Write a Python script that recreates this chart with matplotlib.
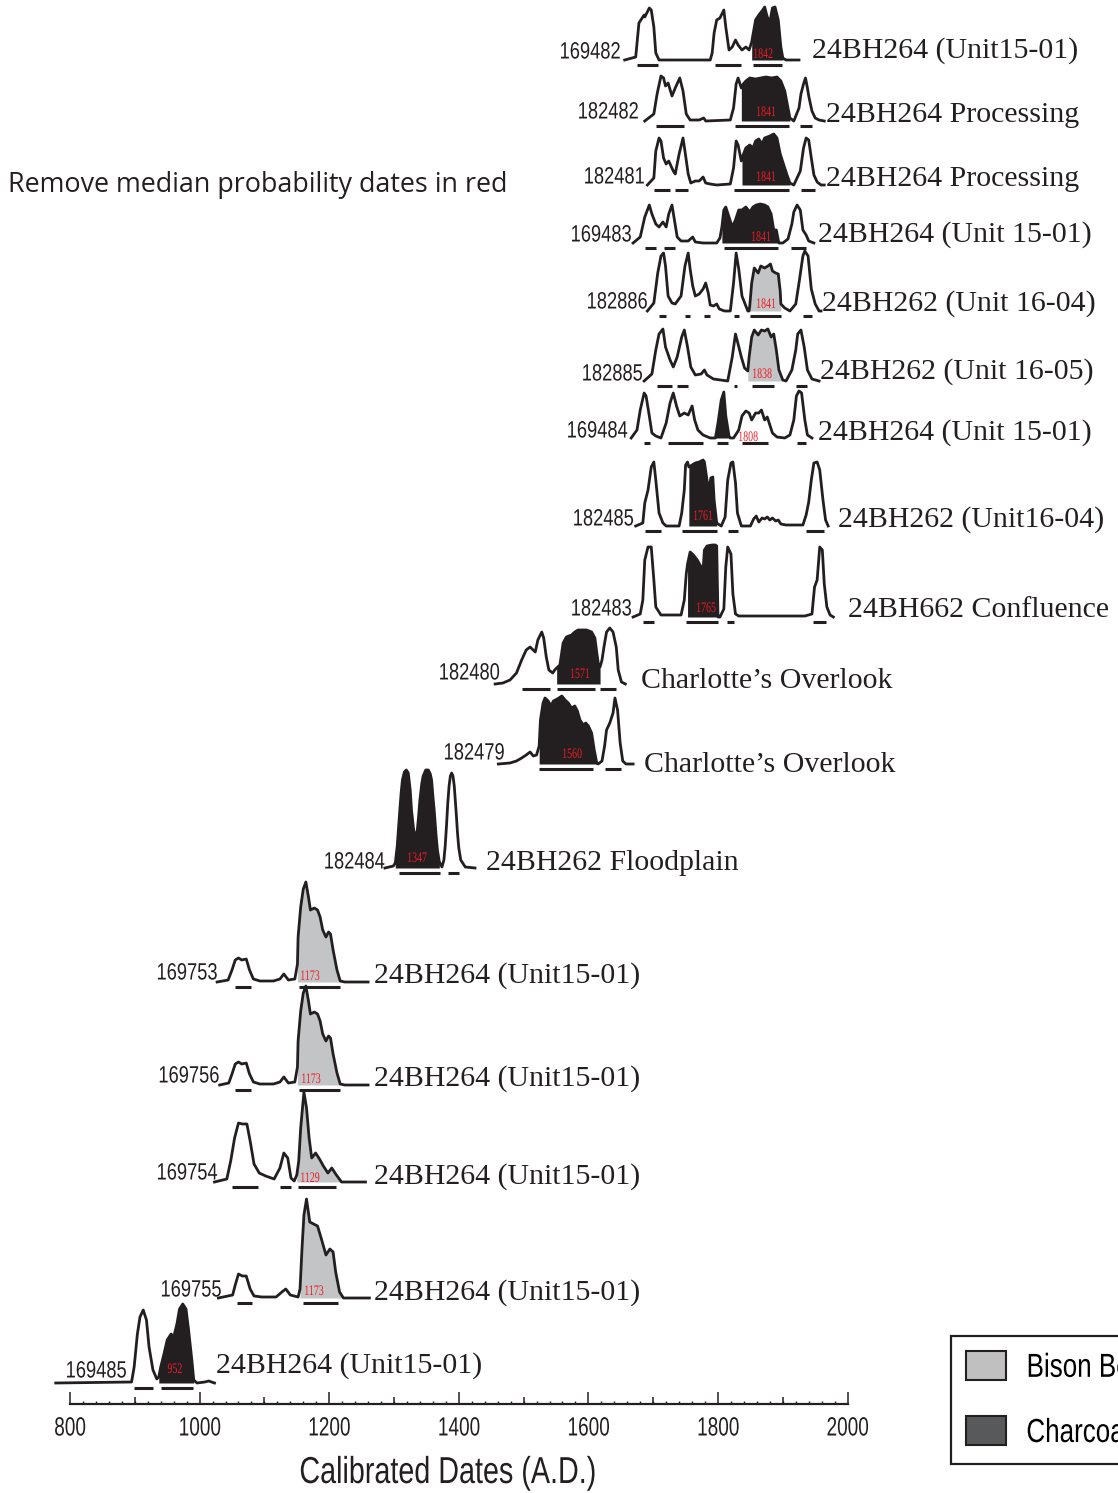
import logging
import matplotlib
matplotlib.use("Agg")
import matplotlib.pyplot as plt
from matplotlib.patches import Patch
from matplotlib.ticker import MultipleLocator
from matplotlib import patheffects
from matplotlib.transforms import Affine2D

logging.getLogger("matplotlib.font_manager").setLevel(logging.ERROR)

# ------------------------------------------------------------------ data
sample_ids = ["169482", "182482", "182481", "169483", "182886", "182885",
              "169484", "182485", "182483", "182480", "182479", "182484",
              "169753", "169756", "169754", "169755", "169485"]
site_names = ["24BH264 (Unit15-01)", "24BH264 Processing", "24BH264 Processing",
              "24BH264 (Unit 15-01)", "24BH262 (Unit 16-04)", "24BH262 (Unit 16-05)",
              "24BH264 (Unit 15-01)", "24BH262 (Unit16-04)", "24BH662 Confluence",
              "Charlotte\u2019s Overlook", "Charlotte\u2019s Overlook", "24BH262 Floodplain",
              "24BH264 (Unit15-01)", "24BH264 (Unit15-01)", "24BH264 (Unit15-01)",
              "24BH264 (Unit15-01)", "24BH264 (Unit15-01)"]
material = ["Charcoal", "Charcoal", "Charcoal", "Charcoal", "Bison Bone", "Bison Bone",
            "Charcoal", "Charcoal", "Charcoal", "Charcoal", "Charcoal", "Charcoal",
            "Bison Bone", "Bison Bone", "Bison Bone", "Bison Bone", "Charcoal"]
median_dates = [1842, 1841, 1841, 1841, 1841, 1838, 1808, 1761, 1765, 1571, 1560,
                1347, 1173, 1173, 1129, 1173, 952]
# shaded (median-bearing) part of each distribution, cal AD
shaded_ranges = [(1852, 1900), (1836, 1911), (1837, 1911), (1806, 1894), (1848, 1897),
                 (1846, 1900), (1796, 1819), (1755, 1798), (1753, 1800), (1551, 1618),
                 (1524, 1613), (1302, 1370), (1151, 1217), (1151, 1217), (1150, 1219),
                 (1155, 1222), (937, 991)]

# probability curves (calendar year, relative probability) and 2-sigma ranges
years_169482 = [1656, 1673, 1678, 1681, 1686, 1687, 1694, 1697, 1701, 1704, 1709, 1788, 1791,
                1794, 1798, 1803, 1809, 1812, 1817, 1822, 1827, 1831, 1837, 1843, 1848, 1852,
                1858, 1863, 1869, 1872, 1876, 1880, 1884, 1888, 1893, 1897, 1900, 1905, 1925]
prob_169482 = [0, 3, 37, 40, 45, 43, 52, 50, 33, 7, 0, 0, 7, 27, 40, 42, 50, 33, 10, 13, 20, 15,
               10, 13, 10, 18, 40, 45, 50, 53, 43, 38, 52, 53, 40, 13, 2, 0, 0]
sigma_169482 = [(1675, 1707), (1796, 1835), (1854, 1899)]

years_182482 = [1687, 1701, 1706, 1712, 1716, 1719, 1723, 1729, 1734, 1741, 1746, 1751, 1757,
                1771, 1778, 1781, 1819, 1824, 1828, 1831, 1836, 1839, 1843, 1849, 1858, 1866,
                1874, 1883, 1891, 1897, 1903, 1908, 1911, 1917, 1925, 1928, 1932, 1935, 1938,
                1940, 1945, 1950, 1956, 1964]
prob_182482 = [0, 7, 27, 45, 43, 35, 38, 25, 33, 43, 30, 7, 1, 1, 3, 0, 1, 13, 37, 43, 33, 37,
               40, 43, 42, 43, 44, 43, 44, 40, 30, 13, 3, 0, 13, 27, 37, 43, 33, 25, 10, 3, 1, 0]
sigma_182482 = [(1704, 1748), (1827, 1909), (1927, 1945)]

years_182481 = [1691, 1701, 1704, 1709, 1712, 1716, 1720, 1724, 1731, 1734, 1740, 1746, 1749,
                1754, 1758, 1765, 1771, 1777, 1781, 1788, 1798, 1819, 1824, 1828, 1831, 1836,
                1837, 1843, 1849, 1854, 1858, 1863, 1868, 1872, 1880, 1886, 1891, 1896, 1901,
                1906, 1911, 1917, 1927, 1932, 1936, 1940, 1944, 1948, 1953, 1959, 1964]
prob_182481 = [0, 7, 34, 47, 44, 27, 21, 24, 14, 11, 31, 47, 34, 11, 2, 4, 4, 8, 2, 1, 0, 1, 17,
               44, 40, 24, 27, 37, 40, 37, 44, 46, 41, 47, 49, 51, 47, 31, 21, 11, 2, 0, 14, 37,
               47, 45, 27, 10, 3, 0, 0]
sigma_182481 = [(1701, 1726), (1734, 1753), (1824, 1909), (1928, 1950)]

years_169483 = [1669, 1680, 1687, 1694, 1698, 1704, 1709, 1715, 1720, 1724, 1729, 1732, 1737,
                1743, 1754, 1761, 1765, 1777, 1798, 1803, 1806, 1809, 1812, 1817, 1822, 1827,
                1832, 1837, 1843, 1849, 1854, 1859, 1865, 1872, 1877, 1882, 1886, 1890, 1893,
                1894, 1900, 1908, 1914, 1917, 1922, 1927, 1931, 1936, 1940, 1948]
prob_169483 = [0, 6, 26, 38, 29, 19, 16, 21, 16, 29, 38, 26, 6, 2, 2, 6, 1, 0, 0, 5, 16, 33, 36,
               26, 16, 23, 33, 33, 36, 31, 36, 38, 39, 38, 36, 29, 13, 13, 3, 0, 0, 4, 19, 31,
               38, 33, 13, 8, 2, 0]
sigma_169483 = [(1687, 1704), (1717, 1734), (1809, 1893), (1913, 1936)]

years_182886 = [1691, 1701, 1707, 1712, 1716, 1719, 1723, 1729, 1734, 1743, 1749, 1754, 1757,
                1761, 1765, 1771, 1777, 1781, 1785, 1788, 1793, 1798, 1802, 1810, 1819, 1824,
                1828, 1832, 1837, 1846, 1848, 1849, 1852, 1856, 1862, 1866, 1872, 1877, 1881,
                1884, 1889, 1893, 1896, 1897, 1903, 1911, 1920, 1925, 1931, 1934, 1939, 1944,
                1950, 1956, 1959]
prob_182886 = [0, 8, 38, 55, 58, 45, 15, 8, 7, 15, 45, 58, 42, 25, 15, 17, 22, 28, 18, 6, 5, 7,
               2, 0, 0, 28, 58, 42, 15, 0, 0, 5, 28, 43, 38, 45, 43, 45, 47, 40, 38, 37, 20, 7,
               3, 0, 7, 28, 55, 60, 55, 22, 7, 0, 0]
sigma_182886 = [(1709, 1720), (1749, 1757), (1779, 1788), (1824, 1832), (1849, 1897),
                (1931, 1945)]

years_182885 = [1686, 1698, 1704, 1709, 1715, 1719, 1726, 1731, 1737, 1744, 1748, 1753, 1758,
                1765, 1774, 1779, 1783, 1793, 1815, 1822, 1827, 1831, 1836, 1841, 1846, 1848,
                1852, 1856, 1862, 1867, 1872, 1877, 1882, 1886, 1890, 1894, 1900, 1905, 1914,
                1920, 1923, 1928, 1933, 1938, 1945, 1956]
prob_182885 = [0, 7, 31, 47, 52, 34, 21, 14, 24, 44, 51, 34, 14, 6, 7, 11, 6, 2, 0, 24, 47, 37,
               24, 13, 10, 24, 44, 51, 46, 51, 50, 52, 44, 47, 31, 11, 1, 0, 11, 31, 47, 51, 34,
               11, 2, 0]
sigma_182885 = [(1706, 1729), (1737, 1754), (1824, 1829), (1852, 1886), (1921, 1938)]

years_169484 = [1666, 1675, 1680, 1686, 1689, 1694, 1698, 1704, 1712, 1720, 1726, 1731, 1736,
                1741, 1748, 1754, 1760, 1764, 1769, 1777, 1788, 1796, 1800, 1805, 1809, 1812,
                1817, 1819, 1824, 1832, 1837, 1843, 1848, 1852, 1858, 1863, 1867, 1872, 1876,
                1879, 1884, 1891, 1903, 1911, 1917, 1921, 1925, 1929, 1934, 1938, 1945]
prob_169484 = [0, 8, 28, 45, 42, 22, 5, 2, 0, 15, 35, 45, 32, 22, 25, 23, 32, 18, 8, 3, 0, 0,
               15, 38, 46, 22, 2, 0, 0, 8, 22, 27, 25, 18, 25, 25, 28, 18, 21, 15, 5, 1, 0, 3,
               18, 42, 47, 45, 18, 3, 0]
sigma_169484 = [(1686, 1695), (1723, 1777), (1798, 1815), (1837, 1877), (1922, 1936)]

years_182485 = [1673, 1684, 1687, 1692, 1697, 1701, 1704, 1709, 1715, 1720, 1740, 1744, 1748,
                1750, 1753, 1755, 1760, 1765, 1771, 1777, 1779, 1783, 1786, 1789, 1792, 1794,
                1798, 1805, 1811, 1815, 1820, 1823, 1827, 1830, 1836, 1850, 1855, 1859, 1863,
                1868, 1872, 1876, 1880, 1884, 1889, 1893, 1897, 1905, 1931, 1936, 1940, 1944,
                1948, 1953, 1957, 1962, 1966, 1970]
prob_182485 = [0, 3, 23, 36, 59, 64, 46, 13, 3, 0, 0, 13, 36, 61, 64, 59, 61, 63, 64, 66, 64,
               46, 36, 48, 49, 26, 3, 0, 9, 46, 63, 64, 43, 13, 0, 0, 7, 10, 4, 8, 7, 9, 6, 8,
               5, 6, 2, 1, 1, 11, 24, 46, 63, 64, 56, 26, 6, 0]
sigma_182485 = [(1687, 1712), (1744, 1798), (1815, 1831), (1936, 1964)]

years_182483 = [1669, 1680, 1684, 1687, 1692, 1697, 1701, 1704, 1712, 1743, 1748, 1751, 1753,
                1757, 1762, 1768, 1774, 1777, 1779, 1783, 1791, 1796, 1798, 1800, 1803, 1809,
                1812, 1815, 1820, 1823, 1827, 1832, 1934, 1945, 1949, 1953, 1957, 1961, 1964,
                1968, 1973, 1978]
prob_182483 = [0, 3, 17, 57, 70, 70, 37, 10, 2, 2, 17, 43, 53, 65, 62, 57, 50, 47, 67, 71, 72,
               72, 71, 0, 0, 8, 50, 70, 63, 23, 3, 1, 1, 3, 30, 37, 70, 67, 33, 10, 2, 0]
sigma_182483 = [(1684, 1701), (1751, 1800), (1814, 1824), (1947, 1966)]

years_182480 = [1456, 1468, 1479, 1489, 1497, 1504, 1510, 1518, 1522, 1528, 1531, 1535, 1539,
                1545, 1548, 1551, 1556, 1561, 1566, 1574, 1579, 1584, 1597, 1605, 1610, 1613,
                1616, 1618, 1621, 1624, 1628, 1633, 1638, 1643, 1646, 1651, 1657]
prob_182480 = [0, 1, 4, 11, 24, 34, 37, 32, 44, 52, 46, 27, 14, 11, 14, 16, 19, 41, 47, 49, 52,
               54, 54, 52, 46, 31, 17, 17, 24, 37, 52, 56, 52, 37, 14, 2, 0]
sigma_182480 = [(1497, 1540), (1551, 1610), (1618, 1643)]

years_182479 = [1461, 1479, 1489, 1497, 1504, 1510, 1515, 1520, 1524, 1526, 1530, 1533, 1538,
                1542, 1546, 1552, 1559, 1564, 1569, 1574, 1579, 1583, 1587, 1592, 1596, 1600,
                1605, 1609, 1612, 1613, 1615, 1621, 1625, 1628, 1633, 1638, 1641, 1645, 1649,
                1653, 1658, 1669]
prob_182479 = [0, 1, 3, 6, 9, 12, 8, 9, 18, 44, 61, 66, 63, 58, 63, 65, 68, 64, 61, 56, 58, 53,
               44, 39, 41, 38, 31, 14, 4, 1, 0, 3, 18, 34, 41, 51, 66, 54, 21, 3, 0, 0]
sigma_182479 = [(1524, 1607), (1626, 1651)]

years_182484 = [1286, 1299, 1302, 1305, 1307, 1309, 1311, 1313, 1316, 1319, 1322, 1325, 1327,
                1330, 1332, 1334, 1336, 1338, 1340, 1343, 1345, 1349, 1353, 1356, 1358, 1360,
                1362, 1365, 1367, 1370, 1374, 1377, 1379, 1381, 1383, 1385, 1387, 1389, 1391,
                1393, 1396, 1398, 1400, 1403, 1410, 1425]
prob_182484 = [0, 2, 5, 22, 40, 58, 75, 88, 96, 98, 95, 78, 58, 40, 32, 32, 38, 52, 68, 85, 92,
               98, 98, 94, 88, 72, 58, 32, 18, 6, 1, 8, 22, 42, 65, 82, 92, 95, 92, 82, 55, 35,
               20, 8, 1, 0]
sigma_182484 = [(1307, 1371), (1384, 1401)]

years_169753 = [1027, 1044, 1050, 1055, 1060, 1065, 1072, 1077, 1083, 1093, 1114, 1124, 1130,
                1137, 1147, 1151, 1152, 1156, 1160, 1164, 1168, 1171, 1177, 1182, 1186, 1190,
                1195, 1199, 1202, 1206, 1212, 1217, 1224, 1260]
prob_169753 = [0, 2, 12, 22, 24, 22, 23, 12, 3, 1, 1, 3, 8, 2, 3, 18, 45, 75, 93, 100, 85, 72,
               74, 72, 65, 52, 45, 50, 48, 32, 12, 1, 0, 0]
sigma_169753 = [(1055, 1080), (1154, 1216)]

years_169756 = [1031, 1045, 1050, 1055, 1060, 1065, 1072, 1077, 1083, 1093, 1114, 1124, 1130,
                1137, 1147, 1151, 1152, 1156, 1160, 1164, 1168, 1171, 1177, 1182, 1186, 1190,
                1195, 1199, 1202, 1206, 1212, 1217, 1224, 1260]
prob_169756 = [0, 2, 11, 21, 23, 21, 22, 11, 3, 1, 1, 3, 8, 2, 3, 18, 44, 74, 92, 99, 84, 71,
               73, 71, 64, 51, 44, 49, 47, 31, 12, 1, 0, 0]
sigma_169756 = [(1055, 1080), (1154, 1216)]

years_169754 = [1023, 1042, 1048, 1054, 1060, 1066, 1073, 1078, 1084, 1092, 1102, 1115, 1124,
                1130, 1136, 1141, 1146, 1150, 1153, 1156, 1161, 1165, 1169, 1173, 1179, 1185,
                1191, 1198, 1204, 1210, 1219, 1231, 1256]
prob_169754 = [0, 3, 21, 44, 59, 58, 58, 41, 18, 9, 6, 3, 14, 29, 24, 4, 1, 7, 21, 54, 90, 74,
               44, 24, 29, 23, 16, 9, 14, 8, 0, 0, 0]
sigma_169754 = [(1050, 1090), (1124, 1141), (1152, 1210)]

years_169755 = [1029, 1051, 1055, 1060, 1066, 1072, 1078, 1084, 1096, 1118, 1127, 1133, 1140,
                1152, 1155, 1158, 1161, 1165, 1170, 1176, 1182, 1188, 1195, 1201, 1206, 1210,
                1216, 1222, 1262]
prob_169755 = [0, 3, 13, 24, 22, 22, 9, 2, 1, 1, 6, 9, 3, 1, 9, 49, 83, 99, 76, 74, 72, 59, 43,
               49, 46, 26, 6, 0, 0]
sigma_169755 = [(1057, 1081), (1159, 1213)]

years_169485 = [778, 895, 899, 904, 908, 913, 918, 922, 928, 934, 937, 940, 945, 950, 956, 960,
                965, 969, 974, 979, 983, 988, 991, 996, 1008, 1014, 1023]
prob_169485 = [0, 1, 16, 49, 66, 73, 63, 36, 13, 4, 6, 16, 29, 43, 49, 46, 59, 74, 79, 74, 53,
               23, 3, 0, 1, 2, 0]
sigma_169485 = [(898, 928), (940, 990)]

axis_ticks = [800, 1000, 1200, 1400, 1600, 1800, 2000]
axis_tick_labels = ["800", "1000", "1200", "1400", "1600", "1800", "2000"]
legend_labels = ["Bison Bone", "Charcoal"]

curves = {
    "169482": (years_169482, prob_169482, sigma_169482),
    "182482": (years_182482, prob_182482, sigma_182482),
    "182481": (years_182481, prob_182481, sigma_182481),
    "169483": (years_169483, prob_169483, sigma_169483),
    "182886": (years_182886, prob_182886, sigma_182886),
    "182885": (years_182885, prob_182885, sigma_182885),
    "169484": (years_169484, prob_169484, sigma_169484),
    "182485": (years_182485, prob_182485, sigma_182485),
    "182483": (years_182483, prob_182483, sigma_182483),
    "182480": (years_182480, prob_182480, sigma_182480),
    "182479": (years_182479, prob_182479, sigma_182479),
    "182484": (years_182484, prob_182484, sigma_182484),
    "169753": (years_169753, prob_169753, sigma_169753),
    "169756": (years_169756, prob_169756, sigma_169756),
    "169754": (years_169754, prob_169754, sigma_169754),
    "169755": (years_169755, prob_169755, sigma_169755),
    "169485": (years_169485, prob_169485, sigma_169485),
}

# ------------------------------------------------------------------ layout (pixels)
W, H = 1118, 1493
X0_PX, PX_PER_YEAR = 70, 0.648
row_baseline = [60, 121, 185, 243, 311, 381, 438, 526, 617, 684, 764, 868, 982, 1085,
                1182, 1298, 1383]
id_pos = [(621, 50), (639, 110), (645, 175), (632, 233), (648, 300), (643, 372), (628, 429),
          (634, 517), (632, 607), (500, 671), (505, 751), (385, 860), (218, 971), (220, 1074),
          (218, 1171), (222, 1288), (127, 1369)]
name_pos = [(812, 48), (826, 112), (826, 176), (818, 232), (822, 301), (820, 369), (818, 430),
            (838, 517), (848, 607), (641, 678), (644, 762), (486, 860), (374, 973), (374, 1076),
            (374, 1174), (374, 1290), (216, 1363)]
median_pos = [(763, 53), (766, 111), (766, 176), (761, 236), (766, 303), (762, 373),
              (748, 436), (703, 515), (706, 607), (580, 673), (572, 753), (417, 857),
              (310, 975), (311, 1078), (310, 1177), (314, 1290), (175, 1368)]

INK = "#231f20"
fill_colors = {"Charcoal": INK, "Bison Bone": "#c3c4c6"}
RED = "#ed1c24"
SERIF = ["Liberation Serif", "DejaVu Serif"]
SANS = ["Liberation Sans", "DejaVu Sans"]


class Condensed(patheffects.AbstractPathEffect):
    """Draw text glyphs narrower (like a condensed face), keeping the anchor edge."""

    def __init__(self, sx, anchor="left"):
        super().__init__()
        self.sx = sx
        self.anchor = anchor

    def draw_path(self, renderer, gc, tpath, affine, rgbFace=None):
        ext = tpath.get_extents()
        if self.anchor == "right":
            x0 = ext.x1
        elif self.anchor == "center":
            x0 = 0.5 * (ext.x0 + ext.x1)
        else:
            x0 = ext.x0
        pre = Affine2D().translate(-x0, 0).scale(self.sx, 1.0).translate(x0, 0)
        renderer.draw_path(gc, tpath, pre + affine, rgbFace)


def px2yr(px):
    return 800 + (px - X0_PX) / PX_PER_YEAR


fig = plt.figure(figsize=(W / 100, H / 100), dpi=100)
ax = fig.add_axes([0, 0, 1, 1])
ax.set_xlim(px2yr(0), px2yr(W))
ax.set_ylim(H, 0)
ax.axis("off")

for i, sid in enumerate(sample_ids):
    yrs, prob, sig = curves[sid]
    base = row_baseline[i]
    ys = [base - p for p in prob]
    s0, s1 = shaded_ranges[i]
    sel = [k for k, y in enumerate(yrs) if s0 <= y <= s1]
    ax.fill_between([yrs[k] for k in sel], [ys[k] for k in sel], base,
                    color=fill_colors[material[i]], lw=0, zorder=2)
    ax.plot(yrs, ys, color=INK, lw=2.0, solid_joinstyle="round", zorder=3)
    for a, b in sig:
        ax.hlines(base + 4.5, a, b, color=INK, lw=2.2, zorder=3)
    ix, iy = id_pos[i]
    ax.text(px2yr(ix), iy + 8.5, sid, ha="right", va="baseline", fontsize=17,
            family=SANS, color=INK, path_effects=[Condensed(0.775, "right")])
    nx, ny = name_pos[i]
    ax.text(px2yr(nx), ny + 10, site_names[i], ha="left", va="baseline", fontsize=21.5,
            family=SERIF, color=INK)
    mx, my = median_pos[i]
    ax.text(px2yr(mx), my + 5, str(median_dates[i]), ha="center", va="baseline",
            fontsize=10.5, family=SERIF, color=RED, zorder=4,
            path_effects=[Condensed(0.68, "center")])

# x axis
ax_x = fig.add_axes([X0_PX / W, (H - 1404) / H, 1200 * PX_PER_YEAR / W, 0.0005])
ax_x.set_xlim(800, 2000)
ax_x.patch.set_visible(False)
for s in ["top", "left", "right"]:
    ax_x.spines[s].set_visible(False)
ax_x.spines["bottom"].set_linewidth(1.6)
ax_x.spines["bottom"].set_color(INK)
ax_x.set_yticks([])
ax_x.set_xticks(axis_ticks, axis_tick_labels)
ax_x.xaxis.set_minor_locator(MultipleLocator(20))
ax_x.tick_params(axis="x", which="major", direction="in", length=9, width=1.1, pad=9,
                 labelsize=19, colors=INK)
ax_x.tick_params(axis="x", which="minor", direction="in", length=2.5, width=1.0, colors=INK)
for lab in ax_x.get_xticklabels():
    lab.set_family(SANS)
    lab.set_path_effects([Condensed(0.72, "center")])
sec = ax_x.secondary_xaxis("bottom")
sec.set_xticks(list(range(900, 2000, 200)))
sec.tick_params(direction="in", length=5, width=1.1, labelbottom=False, colors=INK)
sec.spines["bottom"].set_visible(False)

fig.text(448 / W, 1 - 1473 / H, "Calibrated Dates (A.D.)", ha="center", va="center",
         fontsize=27, family=SANS, color=INK, path_effects=[Condensed(0.766, "center")])
fig.text(8 / W, 1 - 185 / H, "Remove median probability dates in red", ha="left",
         va="center", fontsize=19.4, family=["Open Sans", "DejaVu Sans"], color=INK)

handles = [Patch(facecolor="#c0c0c0", edgecolor=INK, lw=1.5),
           Patch(facecolor="#58595b", edgecolor=INK, lw=1.5)]
leg = ax.legend(handles, legend_labels, loc="upper left",
                bbox_to_anchor=(951 / W, 1 - 1336 / H), bbox_transform=fig.transFigure,
                prop={"family": SANS, "size": 24}, handlelength=1.2, handleheight=0.95,
                labelspacing=0.97, borderpad=0.45, borderaxespad=0, handletextpad=0.6,
                frameon=True, fancybox=False, framealpha=1, edgecolor=INK)
leg.get_frame().set_linewidth(1.6)
for t in leg.get_texts():
    t.set_path_effects([Condensed(0.78, "left")])

fig.savefig("out.png", dpi=100)
